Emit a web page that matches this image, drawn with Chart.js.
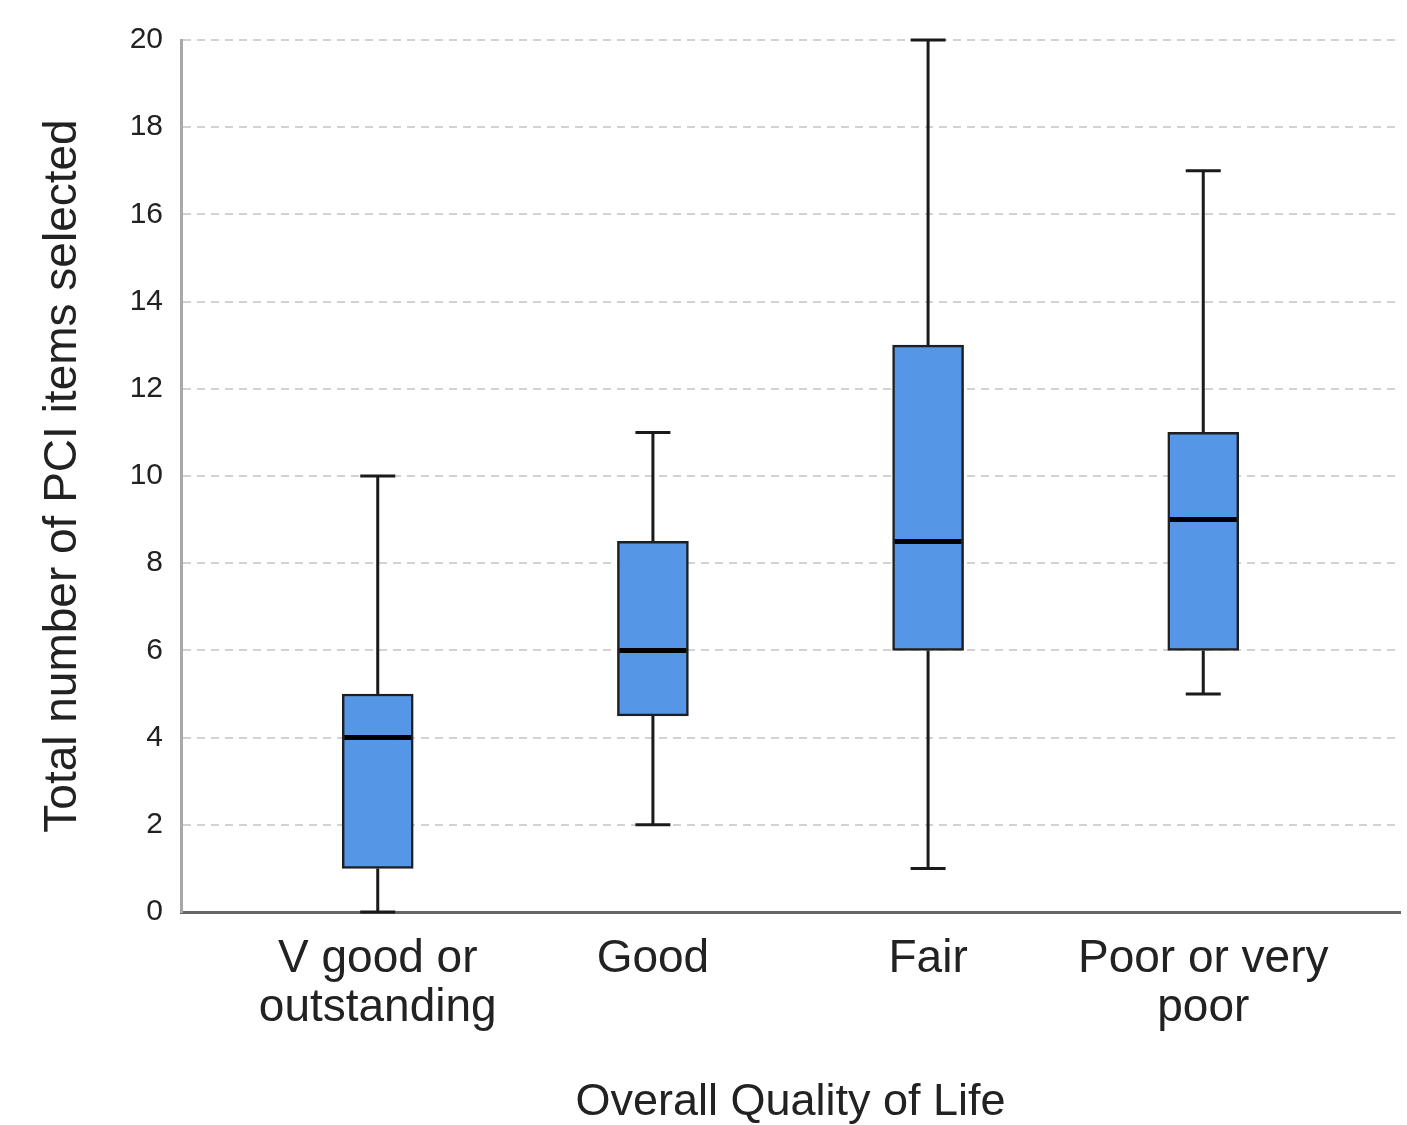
<!DOCTYPE html>
<html>
<head>
<meta charset="utf-8">
<script src="https://cdn.jsdelivr.net/npm/chart.js@4/dist/chart.umd.min.js"></script>
<style>
  html, body { margin: 0; padding: 0; background: #fff; }
  #wrap { width: 1407px; height: 1125px; }
</style>
</head>
<body>
<div id="wrap"><canvas id="c" width="1407" height="1125"></canvas></div>
<script>
const categories = [['V good or', 'outstanding'], ['Good'], ['Fair'], ['Poor or very', 'poor']];
const whiskerMin = [0, 2, 1, 5];
const q1Values = [1, 4.5, 6, 6];
const medianValues = [4, 6, 8.5, 9];
const q3Values = [5, 8.5, 13, 11];
const whiskerMax = [10, 11, 20, 17];
const yMin = 0, yMax = 20, yStep = 2;

const FONT = "'Liberation Sans', Arial, sans-serif";
const BOX_W = 71, CAP_W = 35;

const boxPlugin = {
  id: 'boxWhiskers',
  beforeDatasetsDraw(chart) {
    const { ctx, scales: { x, y } } = chart;
    ctx.save();
    ctx.strokeStyle = '#1a1a1a';
    ctx.lineWidth = 3;
    ctx.lineCap = 'butt';
    categories.forEach((c, i) => {
      const cx = x.getPixelForValue(i);
      const pMin = y.getPixelForValue(whiskerMin[i]);
      const pMax = y.getPixelForValue(whiskerMax[i]);
      const pQ1 = y.getPixelForValue(q1Values[i]);
      const pQ3 = y.getPixelForValue(q3Values[i]);
      ctx.beginPath();
      ctx.moveTo(cx, pQ3); ctx.lineTo(cx, pMax);
      ctx.moveTo(cx, pQ1); ctx.lineTo(cx, pMin);
      ctx.moveTo(cx - CAP_W / 2, pMax); ctx.lineTo(cx + CAP_W / 2, pMax);
      ctx.moveTo(cx - CAP_W / 2, pMin); ctx.lineTo(cx + CAP_W / 2, pMin);
      ctx.stroke();
    });
    ctx.restore();
  },
  afterDatasetsDraw(chart) {
    const { ctx, scales: { x, y } } = chart;
    ctx.save();
    ctx.strokeStyle = '#000';
    ctx.lineWidth = 5;
    categories.forEach((c, i) => {
      const cx = x.getPixelForValue(i);
      const pm = y.getPixelForValue(medianValues[i]);
      ctx.beginPath();
      ctx.moveTo(cx - BOX_W / 2 + 2, pm);
      ctx.lineTo(cx + BOX_W / 2 - 2, pm);
      ctx.stroke();
    });
    ctx.restore();
  }
};

new Chart(document.getElementById('c'), {
  type: 'bar',
  data: {
    datasets: [{
      data: categories.map((c, i) => ({ x: i, y: [q1Values[i], q3Values[i]] })),
      backgroundColor: '#5596e6',
      borderColor: '#1f1f1f',
      borderWidth: 2.5,
      borderSkipped: false,
      barThickness: BOX_W
    }]
  },
  options: {
    responsive: false,
    animation: false,
    layout: { padding: { top: 40, right: 7, left: 0, bottom: 0 } },
    plugins: { legend: { display: false }, tooltip: { enabled: false } },
    scales: {
      x: {
        type: 'linear',
        offset: false,
        min: -0.715,
        max: 3.715,
        afterBuildTicks(s) { s.ticks = categories.map((c, i) => ({ value: i })); },
        afterFit(s) { s.height = 213; },
        grid: { display: false, drawTicks: false },
        border: { display: true, color: '#666', width: 3 },
        ticks: {
          autoSkip: false,
          maxRotation: 0,
          padding: 23,
          color: '#222',
          font: { family: FONT, size: 46, lineHeight: 1.06 },
          callback(v) { return categories[v]; }
        },
        title: {
          display: true,
          text: 'Overall Quality of Life',
          color: '#222',
          font: { family: FONT, size: 45, lineHeight: 1.0 },
          padding: { top: 0, bottom: 0 }
        }
      },
      y: {
        min: yMin,
        max: yMax,
        afterFit(s) { s.width = 181; },
        ticks: {
          stepSize: yStep,
          padding: 18,
          color: '#222',
          font: { family: FONT, size: 30 }
        },
        grid: {
          drawTicks: false,
          tickLength: 0,
          color: (c) => c.tick && c.tick.value === 0 ? 'rgba(0,0,0,0)' : '#d2d2d2',
          lineWidth: 2
        },
        border: { display: true, color: '#a8a8a8', width: 3, dash: [8, 6] },
        title: {
          display: true,
          text: 'Total number of PCI items selected',
          color: '#222',
          font: { family: FONT, size: 46, lineHeight: 1.2 },
          padding: { top: 36, bottom: 0 }
        }
      }
    }
  },
  plugins: [boxPlugin]
});
</script>
</body>
</html>
